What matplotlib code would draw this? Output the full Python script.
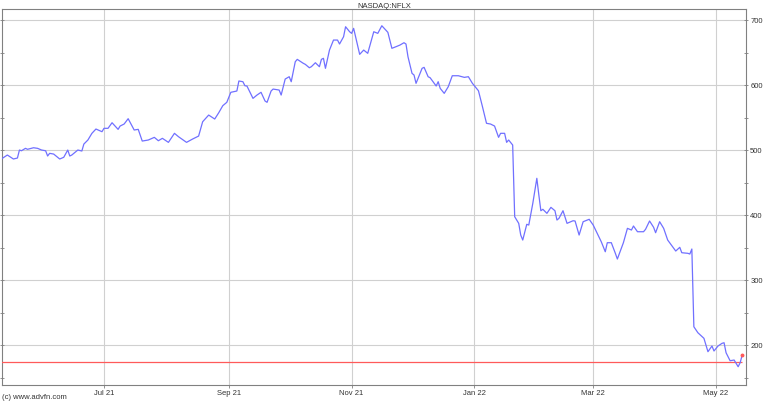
#!/usr/bin/env python3
"""NASDAQ:NFLX one-year price chart, advfn style."""

import matplotlib
matplotlib.use("Agg")
import matplotlib.pyplot as plt
import matplotlib.dates as mdates
import matplotlib.ticker as mticker
import pandas as pd

plt.rcParams.update({
    "font.family": ["Liberation Sans", "DejaVu Sans"],
    "font.size": 5.5,
})

LINE = "#7070FF"
RED = "#FF5A5A"
GRID = "#D0D0D0"
AXIS = "#808080"
TEXT = "#333333"

# ── Data ──
dates = [
    "2021-05-11", "2021-05-14", "2021-05-17", "2021-05-19", "2021-05-20", "2021-05-21",
    "2021-05-23", "2021-05-24", "2021-05-27", "2021-05-29", "2021-05-31", "2021-06-02",
    "2021-06-03", "2021-06-04", "2021-06-06", "2021-06-09", "2021-06-11", "2021-06-13",
    "2021-06-14", "2021-06-15", "2021-06-18", "2021-06-20", "2021-06-21", "2021-06-23",
    "2021-06-25", "2021-06-27", "2021-06-30", "2021-07-01", "2021-07-03", "2021-07-05",
    "2021-07-08", "2021-07-09", "2021-07-11", "2021-07-13", "2021-07-16", "2021-07-18",
    "2021-07-20", "2021-07-23", "2021-07-26", "2021-07-28", "2021-07-30", "2021-08-02",
    "2021-08-05", "2021-08-07", "2021-08-11", "2021-08-14", "2021-08-17", "2021-08-19",
    "2021-08-22", "2021-08-25", "2021-08-27", "2021-08-29", "2021-08-31", "2021-09-02",
    "2021-09-05", "2021-09-06", "2021-09-08", "2021-09-09", "2021-09-10", "2021-09-13",
    "2021-09-15", "2021-09-17", "2021-09-19", "2021-09-20", "2021-09-22", "2021-09-23",
    "2021-09-26", "2021-09-27", "2021-09-29", "2021-10-01", "2021-10-02", "2021-10-04",
    "2021-10-05", "2021-10-08", "2021-10-09", "2021-10-11", "2021-10-12", "2021-10-14",
    "2021-10-16", "2021-10-17", "2021-10-18", "2021-10-19", "2021-10-21", "2021-10-23",
    "2021-10-25", "2021-10-26", "2021-10-28", "2021-10-29", "2021-10-31", "2021-11-01",
    "2021-11-02", "2021-11-05", "2021-11-07", "2021-11-09", "2021-11-12", "2021-11-14",
    "2021-11-16", "2021-11-19", "2021-11-21", "2021-11-23", "2021-11-25", "2021-11-27",
    "2021-11-28", "2021-11-29", "2021-12-01", "2021-12-02", "2021-12-03", "2021-12-06",
    "2021-12-07", "2021-12-09", "2021-12-10", "2021-12-13", "2021-12-14", "2021-12-15",
    "2021-12-17", "2021-12-19", "2021-12-21", "2021-12-24", "2021-12-27", "2021-12-29",
    "2021-12-31", "2022-01-03", "2022-01-05", "2022-01-07", "2022-01-09", "2022-01-11",
    "2022-01-13", "2022-01-14", "2022-01-16", "2022-01-17", "2022-01-18", "2022-01-20",
    "2022-01-21", "2022-01-23", "2022-01-24", "2022-01-25", "2022-01-27", "2022-01-28",
    "2022-01-30", "2022-02-01", "2022-02-02", "2022-02-03", "2022-02-04", "2022-02-06",
    "2022-02-08", "2022-02-10", "2022-02-11", "2022-02-12", "2022-02-14", "2022-02-16",
    "2022-02-19", "2022-02-20", "2022-02-22", "2022-02-24", "2022-02-27", "2022-03-01",
    "2022-03-03", "2022-03-05", "2022-03-07", "2022-03-08", "2022-03-10", "2022-03-12",
    "2022-03-13", "2022-03-16", "2022-03-18", "2022-03-20", "2022-03-21", "2022-03-23",
    "2022-03-26", "2022-03-27", "2022-03-29", "2022-03-31", "2022-04-01", "2022-04-03",
    "2022-04-05", "2022-04-07", "2022-04-10", "2022-04-11", "2022-04-13", "2022-04-14",
    "2022-04-17", "2022-04-18", "2022-04-19", "2022-04-20", "2022-04-22", "2022-04-25",
    "2022-04-27", "2022-04-29", "2022-04-30", "2022-05-02", "2022-05-04", "2022-05-05",
    "2022-05-06", "2022-05-08", "2022-05-10", "2022-05-12", "2022-05-13", "2022-05-14",
]
prices = [
    486.2, 492.3, 486.2, 487.7, 500.0, 498.9,
    502.6, 501.1, 503.5, 502.6, 500.0, 498.9,
    490.8, 494.9, 493.8, 486.2, 488.8, 500.0,
    490.8, 492.3, 500.0, 498.5, 509.2, 515.4,
    525.7, 532.3, 528.2, 533.4, 533.4, 542.0,
    531.8, 536.9, 540.0, 548.2, 530.8, 531.8,
    513.8, 515.4, 519.5, 514.3, 518.0, 511.8,
    525.7, 520.5, 511.8, 516.9, 521.5, 543.5,
    553.8, 547.7, 557.4, 568.2, 573.4, 588.8,
    590.8, 606.2, 605.1, 598.9, 598.5, 579.5,
    584.6, 588.8, 575.4, 573.4, 590.8, 593.8,
    592.3, 584.6, 609.2, 612.8, 605.1, 635.8,
    639.5, 633.4, 631.8, 626.6, 628.2, 634.3,
    628.2, 639.5, 641.1, 625.7, 653.8, 669.2,
    669.2, 663.1, 674.3, 689.7, 682.0, 679.5,
    687.2, 647.2, 653.8, 648.8, 682.0, 679.5,
    691.2, 681.1, 656.5, 658.9, 661.5, 665.1,
    663.1, 643.5, 618.0, 615.4, 602.6, 625.7,
    627.2, 612.8, 611.2, 598.5, 605.1, 594.9,
    587.2, 597.4, 614.3, 614.3, 611.8, 612.8,
    602.6, 591.2, 566.6, 541.1, 540.0, 536.9,
    519.5, 525.7, 525.7, 511.8, 515.4, 507.7,
    397.4, 387.2, 369.2, 361.5, 385.7, 384.6,
    418.0, 456.5, 430.8, 406.6, 408.8, 402.6,
    411.8, 406.6, 392.3, 394.9, 406.6, 387.2,
    391.2, 390.8, 369.2, 389.7, 393.4, 384.6,
    371.8, 358.9, 343.5, 357.4, 357.4, 341.1,
    332.3, 357.4, 379.5, 376.9, 383.1, 374.3,
    374.3, 378.0, 390.8, 381.1, 372.8, 389.7,
    379.5, 361.5, 348.8, 344.6, 350.3, 342.0,
    341.1, 340.0, 347.7, 228.1, 218.9, 210.3,
    189.7, 198.5, 190.8, 198.5, 202.6, 203.5,
    188.1, 175.8, 176.9, 166.6, 172.8, 184.6,
]
ref_level = 173.4          # red horizontal reference line
x_ticks = ["2021-07-01", "2021-09-01", "2021-11-01", "2022-01-01", "2022-03-01", "2022-05-01"]
y_ticks = [200, 300, 400, 500, 600, 700]

dates = pd.to_datetime(dates)
x_ticks = pd.to_datetime(x_ticks)

fig = plt.figure(figsize=(7.68, 4.03), dpi=100)
fig.set_facecolor("white")
ax = fig.add_axes([0.0026, 0.0447, 0.9688, 0.9330])

ax.plot(dates, prices, color=LINE, lw=0.9, zorder=4)
ax.hlines(ref_level, dates[0], dates[-1], color=RED, lw=0.9, zorder=3)
ax.plot(dates[-1], prices[-1], "o", color=RED, ms=1.8, zorder=5)

ax.set_xlim(pd.Timestamp("2021-05-11 08:00"), pd.Timestamp("2022-05-15 22:00"))
ax.set_ylim(138.5, 717)

ax.set_xticks(x_ticks)
ax.xaxis.set_major_formatter(mdates.DateFormatter("%b %y"))
ax.yaxis.tick_right()
ax.set_yticks(y_ticks)
ax.yaxis.set_minor_locator(mticker.MultipleLocator(50))

ax.grid(True, which="major", color=GRID, lw=0.8)
for s in ax.spines.values():
    s.set_color(AXIS)
    s.set_linewidth(0.8)
ax.tick_params(axis="x", length=2, width=0.6, color=AXIS, pad=1.5, labelcolor=TEXT)
ax.tick_params(axis="y", which="both", length=3, width=0.6, color=AXIS, pad=1.5,
               labelcolor=TEXT, left=True, right=True, direction="inout")

fig.text(0.5, 0.992, "NASDAQ:NFLX", ha="center", va="top", color=TEXT, fontsize=5.5)
fig.text(0.003, 0.004, "(c) www.advfn.com", ha="left", va="bottom", color=TEXT, fontsize=5.5)

fig.savefig("out.png", dpi=100)
